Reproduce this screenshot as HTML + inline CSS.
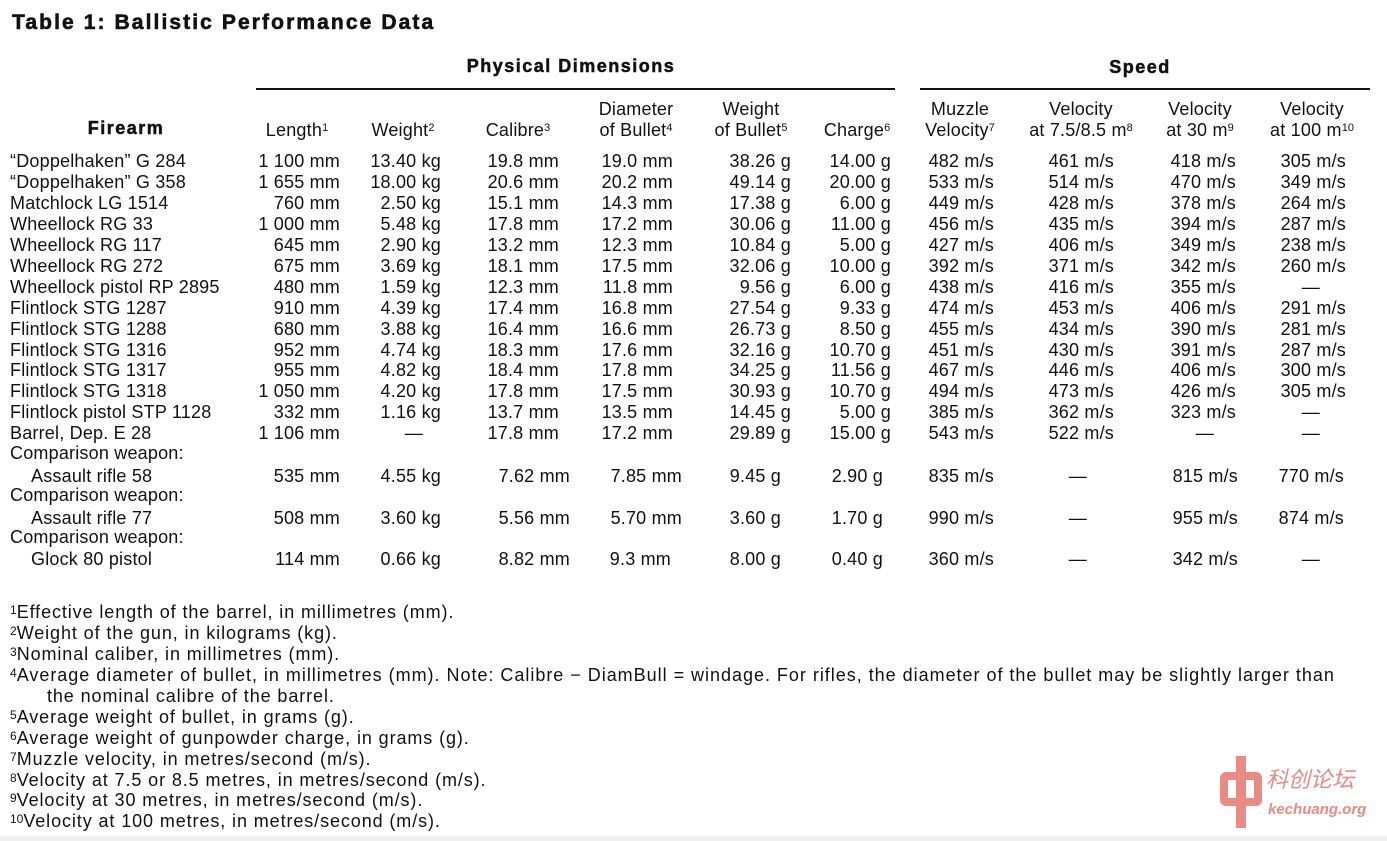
<!DOCTYPE html>
<html><head><meta charset="utf-8"><style>
body{margin:0;width:1387px;height:841px;background:#fff;position:relative;overflow:hidden;font-family:"Liberation Sans",Arial,sans-serif;color:#111}
.a{position:absolute;white-space:nowrap}
.t{font-weight:bold;font-size:21px;letter-spacing:2.1px;-webkit-text-stroke:0.6px #111}
.h{font-size:18px;line-height:21px;text-align:center;transform:translateX(-50%);letter-spacing:0.2px}
.b{font-weight:bold;font-size:18px;letter-spacing:1.5px;-webkit-text-stroke:0.5px #111}
.r{position:absolute;left:0;width:1387px;height:21px;font-size:18px;line-height:21px;letter-spacing:0.2px}
.r span{position:absolute;white-space:nowrap}
.r span.v{text-align:right;width:140px}
.f{font-size:18px;line-height:20px;left:10px;letter-spacing:0.9px}
sup{font-size:11px;vertical-align:top;position:relative;top:-2px;letter-spacing:0}
.f sup{font-size:12px}
.ln{position:absolute;height:2px;background:#111}
</style></head><body>
<div class="a t" style="left:12px;top:11px">Table 1: Ballistic Performance Data</div>
<div class="a b" style="left:571px;top:56px;transform:translateX(-50%)">Physical Dimensions</div>
<div class="a b" style="left:1140px;top:57px;transform:translateX(-50%)">Speed</div>
<div class="ln" style="left:256px;top:88px;width:639px"></div>
<div class="ln" style="left:920px;top:88px;width:450px"></div>
<div class="a b" style="left:126px;top:118px;transform:translateX(-50%)">Firearm</div>
<div class="a h" style="left:297px;top:120px">Length<sup>1</sup></div>
<div class="a h" style="left:403px;top:120px">Weight<sup>2</sup></div>
<div class="a h" style="left:518px;top:120px">Calibre<sup>3</sup></div>
<div class="a h" style="left:636px;top:99px">Diameter<br>of Bullet<sup>4</sup></div>
<div class="a h" style="left:751px;top:99px">Weight<br>of Bullet<sup>5</sup></div>
<div class="a h" style="left:857px;top:120px">Charge<sup>6</sup></div>
<div class="a h" style="left:960px;top:99px">Muzzle<br>Velocity<sup>7</sup></div>
<div class="a h" style="left:1081px;top:99px">Velocity<br>at 7.5/8.5 m<sup>8</sup></div>
<div class="a h" style="left:1200px;top:99px">Velocity<br>at 30 m<sup>9</sup></div>
<div class="a h" style="left:1312px;top:99px">Velocity<br>at 100 m<sup>10</sup></div>

<div class="r" style="top:151px"><span style="left:10px">“Doppelhaken” G 284</span><span class="v" style="left:200px">1 100 mm</span><span class="v" style="left:301px">13.40 kg</span><span class="v" style="left:419px">19.8 mm</span><span class="v" style="left:533px">19.0 mm</span><span class="v" style="left:651px">38.26 g</span><span class="v" style="left:751px">14.00 g</span><span class="v" style="left:854px">482 m/s</span><span class="v" style="left:974px">461 m/s</span><span class="v" style="left:1096px">418 m/s</span><span class="v" style="left:1206px">305 m/s</span></div>
<div class="r" style="top:172px"><span style="left:10px">“Doppelhaken” G 358</span><span class="v" style="left:200px">1 655 mm</span><span class="v" style="left:301px">18.00 kg</span><span class="v" style="left:419px">20.6 mm</span><span class="v" style="left:533px">20.2 mm</span><span class="v" style="left:651px">49.14 g</span><span class="v" style="left:751px">20.00 g</span><span class="v" style="left:854px">533 m/s</span><span class="v" style="left:974px">514 m/s</span><span class="v" style="left:1096px">470 m/s</span><span class="v" style="left:1206px">349 m/s</span></div>
<div class="r" style="top:193px"><span style="left:10px">Matchlock LG 1514</span><span class="v" style="left:200px">760 mm</span><span class="v" style="left:301px">2.50 kg</span><span class="v" style="left:419px">15.1 mm</span><span class="v" style="left:533px">14.3 mm</span><span class="v" style="left:651px">17.38 g</span><span class="v" style="left:751px">6.00 g</span><span class="v" style="left:854px">449 m/s</span><span class="v" style="left:974px">428 m/s</span><span class="v" style="left:1096px">378 m/s</span><span class="v" style="left:1206px">264 m/s</span></div>
<div class="r" style="top:214px"><span style="left:10px">Wheellock RG 33</span><span class="v" style="left:200px">1 000 mm</span><span class="v" style="left:301px">5.48 kg</span><span class="v" style="left:419px">17.8 mm</span><span class="v" style="left:533px">17.2 mm</span><span class="v" style="left:651px">30.06 g</span><span class="v" style="left:751px">11.00 g</span><span class="v" style="left:854px">456 m/s</span><span class="v" style="left:974px">435 m/s</span><span class="v" style="left:1096px">394 m/s</span><span class="v" style="left:1206px">287 m/s</span></div>
<div class="r" style="top:235px"><span style="left:10px">Wheellock RG 117</span><span class="v" style="left:200px">645 mm</span><span class="v" style="left:301px">2.90 kg</span><span class="v" style="left:419px">13.2 mm</span><span class="v" style="left:533px">12.3 mm</span><span class="v" style="left:651px">10.84 g</span><span class="v" style="left:751px">5.00 g</span><span class="v" style="left:854px">427 m/s</span><span class="v" style="left:974px">406 m/s</span><span class="v" style="left:1096px">349 m/s</span><span class="v" style="left:1206px">238 m/s</span></div>
<div class="r" style="top:256px"><span style="left:10px">Wheellock RG 272</span><span class="v" style="left:200px">675 mm</span><span class="v" style="left:301px">3.69 kg</span><span class="v" style="left:419px">18.1 mm</span><span class="v" style="left:533px">17.5 mm</span><span class="v" style="left:651px">32.06 g</span><span class="v" style="left:751px">10.00 g</span><span class="v" style="left:854px">392 m/s</span><span class="v" style="left:974px">371 m/s</span><span class="v" style="left:1096px">342 m/s</span><span class="v" style="left:1206px">260 m/s</span></div>
<div class="r" style="top:277px"><span style="left:10px">Wheellock pistol RP 2895</span><span class="v" style="left:200px">480 mm</span><span class="v" style="left:301px">1.59 kg</span><span class="v" style="left:419px">12.3 mm</span><span class="v" style="left:533px">11.8 mm</span><span class="v" style="left:651px">9.56 g</span><span class="v" style="left:751px">6.00 g</span><span class="v" style="left:854px">438 m/s</span><span class="v" style="left:974px">416 m/s</span><span class="v" style="left:1096px">355 m/s</span><span class="v" style="left:1180px">—</span></div>
<div class="r" style="top:298px"><span style="left:10px">Flintlock STG 1287</span><span class="v" style="left:200px">910 mm</span><span class="v" style="left:301px">4.39 kg</span><span class="v" style="left:419px">17.4 mm</span><span class="v" style="left:533px">16.8 mm</span><span class="v" style="left:651px">27.54 g</span><span class="v" style="left:751px">9.33 g</span><span class="v" style="left:854px">474 m/s</span><span class="v" style="left:974px">453 m/s</span><span class="v" style="left:1096px">406 m/s</span><span class="v" style="left:1206px">291 m/s</span></div>
<div class="r" style="top:319px"><span style="left:10px">Flintlock STG 1288</span><span class="v" style="left:200px">680 mm</span><span class="v" style="left:301px">3.88 kg</span><span class="v" style="left:419px">16.4 mm</span><span class="v" style="left:533px">16.6 mm</span><span class="v" style="left:651px">26.73 g</span><span class="v" style="left:751px">8.50 g</span><span class="v" style="left:854px">455 m/s</span><span class="v" style="left:974px">434 m/s</span><span class="v" style="left:1096px">390 m/s</span><span class="v" style="left:1206px">281 m/s</span></div>
<div class="r" style="top:340px"><span style="left:10px">Flintlock STG 1316</span><span class="v" style="left:200px">952 mm</span><span class="v" style="left:301px">4.74 kg</span><span class="v" style="left:419px">18.3 mm</span><span class="v" style="left:533px">17.6 mm</span><span class="v" style="left:651px">32.16 g</span><span class="v" style="left:751px">10.70 g</span><span class="v" style="left:854px">451 m/s</span><span class="v" style="left:974px">430 m/s</span><span class="v" style="left:1096px">391 m/s</span><span class="v" style="left:1206px">287 m/s</span></div>
<div class="r" style="top:360px"><span style="left:10px">Flintlock STG 1317</span><span class="v" style="left:200px">955 mm</span><span class="v" style="left:301px">4.82 kg</span><span class="v" style="left:419px">18.4 mm</span><span class="v" style="left:533px">17.8 mm</span><span class="v" style="left:651px">34.25 g</span><span class="v" style="left:751px">11.56 g</span><span class="v" style="left:854px">467 m/s</span><span class="v" style="left:974px">446 m/s</span><span class="v" style="left:1096px">406 m/s</span><span class="v" style="left:1206px">300 m/s</span></div>
<div class="r" style="top:381px"><span style="left:10px">Flintlock STG 1318</span><span class="v" style="left:200px">1 050 mm</span><span class="v" style="left:301px">4.20 kg</span><span class="v" style="left:419px">17.8 mm</span><span class="v" style="left:533px">17.5 mm</span><span class="v" style="left:651px">30.93 g</span><span class="v" style="left:751px">10.70 g</span><span class="v" style="left:854px">494 m/s</span><span class="v" style="left:974px">473 m/s</span><span class="v" style="left:1096px">426 m/s</span><span class="v" style="left:1206px">305 m/s</span></div>
<div class="r" style="top:402px"><span style="left:10px">Flintlock pistol STP 1128</span><span class="v" style="left:200px">332 mm</span><span class="v" style="left:301px">1.16 kg</span><span class="v" style="left:419px">13.7 mm</span><span class="v" style="left:533px">13.5 mm</span><span class="v" style="left:651px">14.45 g</span><span class="v" style="left:751px">5.00 g</span><span class="v" style="left:854px">385 m/s</span><span class="v" style="left:974px">362 m/s</span><span class="v" style="left:1096px">323 m/s</span><span class="v" style="left:1180px">—</span></div>
<div class="r" style="top:423px"><span style="left:10px">Barrel, Dep. E 28</span><span class="v" style="left:200px">1 106 mm</span><span class="v" style="left:283px">—</span><span class="v" style="left:419px">17.8 mm</span><span class="v" style="left:533px">17.2 mm</span><span class="v" style="left:651px">29.89 g</span><span class="v" style="left:751px">15.00 g</span><span class="v" style="left:854px">543 m/s</span><span class="v" style="left:974px">522 m/s</span><span class="v" style="left:1074px">—</span><span class="v" style="left:1180px">—</span></div>
<div class="r" style="top:443px"><span style="left:10px">Comparison weapon:</span></div>
<div class="r" style="top:466px"><span style="left:31px">Assault rifle 58</span><span class="v" style="left:200px">535 mm</span><span class="v" style="left:301px">4.55 kg</span><span class="v" style="left:430px">7.62 mm</span><span class="v" style="left:542px">7.85 mm</span><span class="v" style="left:641px">9.45 g</span><span class="v" style="left:743px">2.90 g</span><span class="v" style="left:854px">835 m/s</span><span class="v" style="left:947px">—</span><span class="v" style="left:1098px">815 m/s</span><span class="v" style="left:1204px">770 m/s</span></div>
<div class="r" style="top:485px"><span style="left:10px">Comparison weapon:</span></div>
<div class="r" style="top:508px"><span style="left:31px">Assault rifle 77</span><span class="v" style="left:200px">508 mm</span><span class="v" style="left:301px">3.60 kg</span><span class="v" style="left:430px">5.56 mm</span><span class="v" style="left:542px">5.70 mm</span><span class="v" style="left:641px">3.60 g</span><span class="v" style="left:743px">1.70 g</span><span class="v" style="left:854px">990 m/s</span><span class="v" style="left:947px">—</span><span class="v" style="left:1098px">955 m/s</span><span class="v" style="left:1204px">874 m/s</span></div>
<div class="r" style="top:527px"><span style="left:10px">Comparison weapon:</span></div>
<div class="r" style="top:549px"><span style="left:31px">Glock 80 pistol</span><span class="v" style="left:200px">114 mm</span><span class="v" style="left:301px">0.66 kg</span><span class="v" style="left:430px">8.82 mm</span><span class="v" style="left:531px">9.3 mm</span><span class="v" style="left:641px">8.00 g</span><span class="v" style="left:743px">0.40 g</span><span class="v" style="left:854px">360 m/s</span><span class="v" style="left:947px">—</span><span class="v" style="left:1098px">342 m/s</span><span class="v" style="left:1180px">—</span></div>

<div class="a f" style="top:602px"><sup>1</sup>Effective length of the barrel, in millimetres (mm).</div>
<div class="a f" style="top:623px"><sup>2</sup>Weight of the gun, in kilograms (kg).</div>
<div class="a f" style="top:644px"><sup>3</sup>Nominal caliber, in millimetres (mm).</div>
<div class="a f" style="top:665px;letter-spacing:0.98px"><sup>4</sup>Average diameter of bullet, in millimetres (mm). Note: Calibre − DiamBull = windage. For rifles, the diameter of the bullet may be slightly larger than</div>
<div class="a f" style="top:686px;left:47px">the nominal calibre of the barrel.</div>
<div class="a f" style="top:707px"><sup>5</sup>Average weight of bullet, in grams (g).</div>
<div class="a f" style="top:728px"><sup>6</sup>Average weight of gunpowder charge, in grams (g).</div>
<div class="a f" style="top:749px"><sup>7</sup>Muzzle velocity, in metres/second (m/s).</div>
<div class="a f" style="top:770px"><sup>8</sup>Velocity at 7.5 or 8.5 metres, in metres/second (m/s).</div>
<div class="a f" style="top:790px"><sup>9</sup>Velocity at 30 metres, in metres/second (m/s).</div>
<div class="a f" style="top:811px"><sup>10</sup>Velocity at 100 metres, in metres/second (m/s).</div>

<div class="a" style="left:1218px;top:756px;width:46px;height:72px">
<div style="position:absolute;left:18px;top:0;width:10px;height:72px;background:#e98a84"></div>
<div style="position:absolute;left:2px;top:16px;width:42px;height:34px;border:8px solid #e98a84;border-radius:6px;box-sizing:border-box"></div>
</div>
<div class="a" style="left:1266px;top:762px;font-size:22px;color:#e98a84;font-family:'Noto Sans CJK SC',sans-serif;font-style:italic">科创论坛</div>
<div class="a" style="left:1268px;top:801px;font-size:15px;color:#e98a84;font-style:italic;font-weight:bold">kechuang.org</div>
<div class="a" style="left:0;top:836px;width:1387px;height:5px;background:#f0f0f0"></div>
</body></html>
